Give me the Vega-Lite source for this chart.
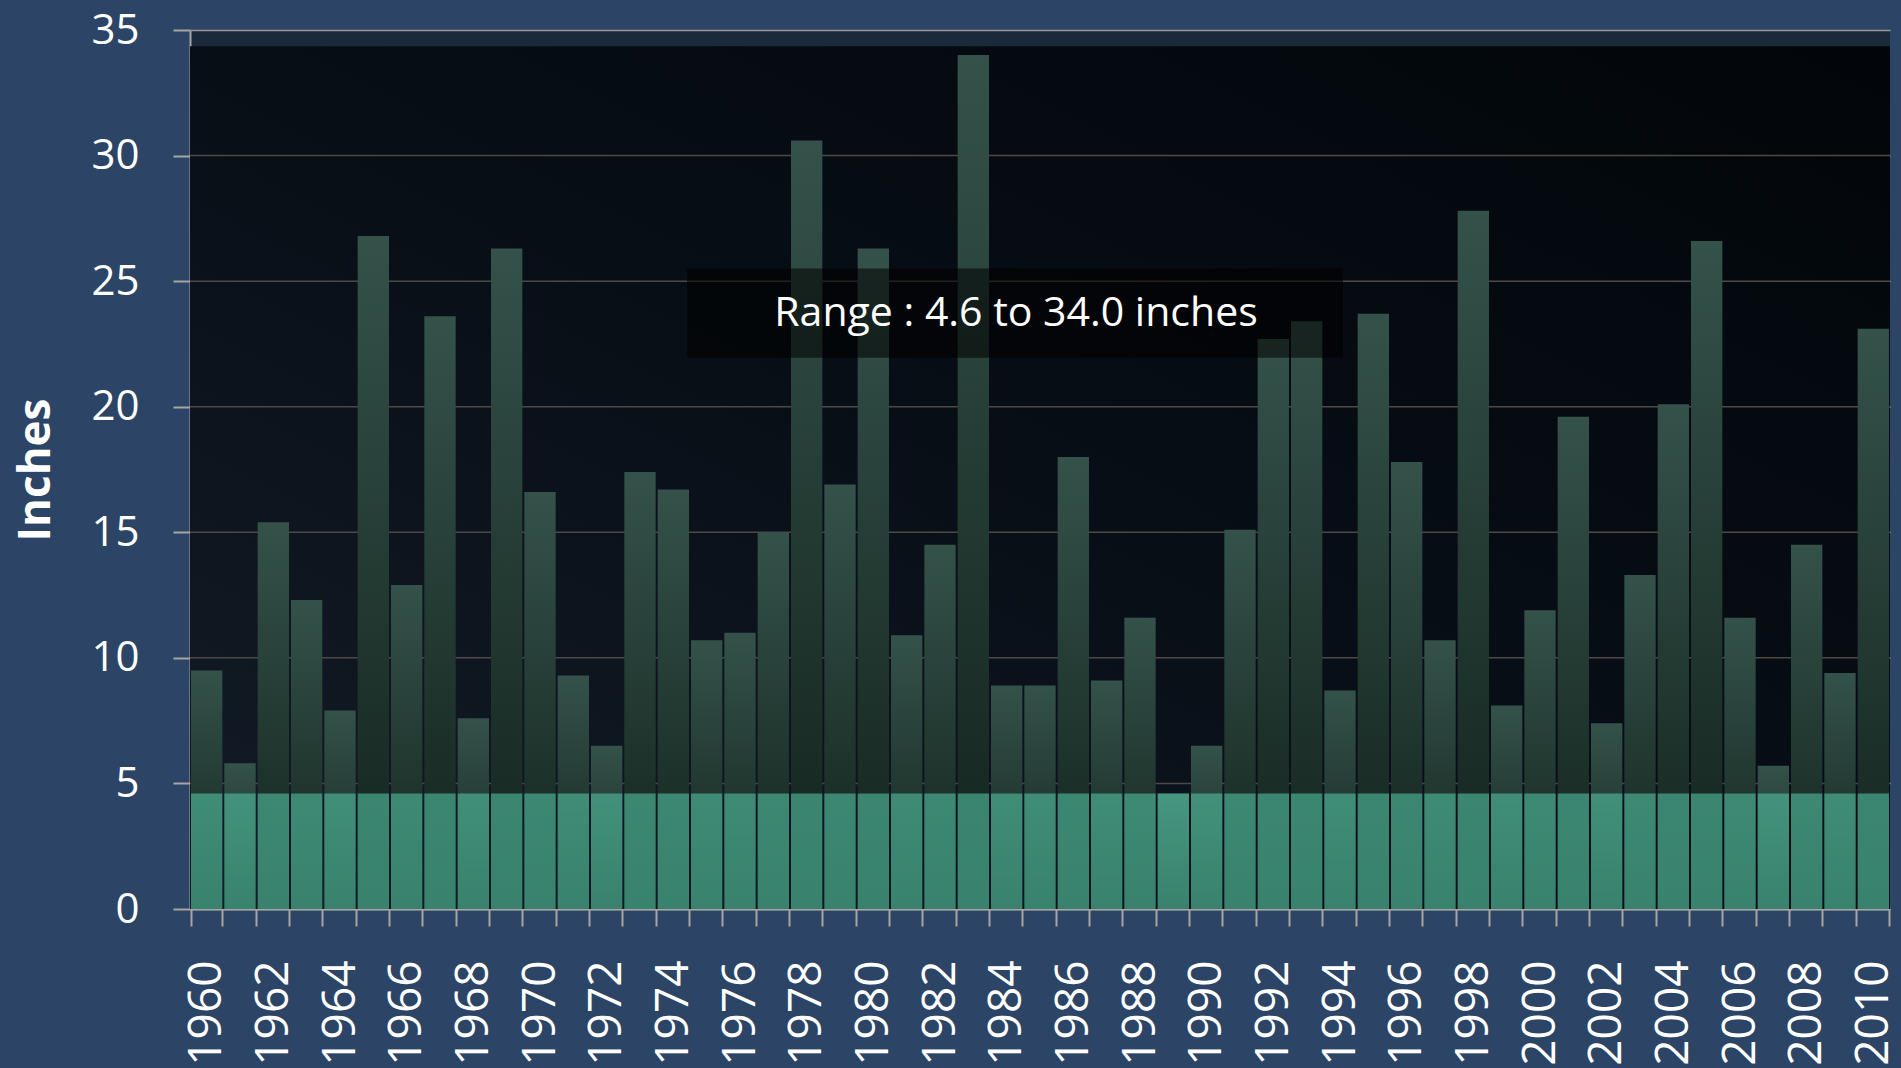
{
  "$schema": "https://vega.github.io/schema/vega-lite/v6.json",
  "width": 1700,
  "height": 879,
  "autosize": {"type": "none"},
  "padding": {"left": 190, "top": 30, "right": 11, "bottom": 159},
  "background": "#2c4566",
  "config": {
    "view": {"fill": "#1b2a3b", "stroke": null},
    "font": "Open Sans",
    "axisX": {
      "title": null,
      "labelAngle": -90,
      "labelAlign": "right",
      "labelBaseline": "middle",
      "labelFontSize": 46,
      "labelFont": "Open Sans",
      "labelColor": "#ffffff",
      "labelPadding": 34,
      "labelOverlap": false,
      "labelExpr": "datum.value % 2 == 0 ? datum.label : ''",
      "tickSize": 17,
      "tickWidth": 2,
      "tickColor": "#a8a4a2",
      "tickBand": "extent",
      "domainColor": "#a8a4a2",
      "domainWidth": 2,
      "grid": false
    },
    "axisY": {
      "titleFontSize": 44,
      "titleFont": "Open Sans",
      "titleFontWeight": "bold",
      "titleColor": "#ffffff",
      "titlePadding": 32,
      "labelFontSize": 42,
      "labelFont": "Open Sans",
      "labelColor": "#ffffff",
      "labelPadding": 34,
      "tickSize": 17,
      "tickWidth": 2,
      "tickColor": "#a8a4a2",
      "domainColor": "#a8a4a2",
      "domainWidth": 2,
      "grid": true,
      "gridColor": "#9c9694",
      "gridWidth": 1.5
    }
  },
  "datasets": {
    "snow": [
      {"year": 1960, "inches": 9.5}, {"year": 1961, "inches": 5.8}, {"year": 1962, "inches": 15.4},
      {"year": 1963, "inches": 12.3}, {"year": 1964, "inches": 7.9}, {"year": 1965, "inches": 26.8},
      {"year": 1966, "inches": 12.9}, {"year": 1967, "inches": 23.6}, {"year": 1968, "inches": 7.6},
      {"year": 1969, "inches": 26.3}, {"year": 1970, "inches": 16.6}, {"year": 1971, "inches": 9.3},
      {"year": 1972, "inches": 6.5}, {"year": 1973, "inches": 17.4}, {"year": 1974, "inches": 16.7},
      {"year": 1975, "inches": 10.7}, {"year": 1976, "inches": 11.0}, {"year": 1977, "inches": 15.0},
      {"year": 1978, "inches": 30.6}, {"year": 1979, "inches": 16.9}, {"year": 1980, "inches": 26.3},
      {"year": 1981, "inches": 10.9}, {"year": 1982, "inches": 14.5}, {"year": 1983, "inches": 34.0},
      {"year": 1984, "inches": 8.9}, {"year": 1985, "inches": 8.9}, {"year": 1986, "inches": 18.0},
      {"year": 1987, "inches": 9.1}, {"year": 1988, "inches": 11.6}, {"year": 1989, "inches": 4.6},
      {"year": 1990, "inches": 6.5}, {"year": 1991, "inches": 15.1}, {"year": 1992, "inches": 22.7},
      {"year": 1993, "inches": 23.4}, {"year": 1994, "inches": 8.7}, {"year": 1995, "inches": 23.7},
      {"year": 1996, "inches": 17.8}, {"year": 1997, "inches": 10.7}, {"year": 1998, "inches": 27.8},
      {"year": 1999, "inches": 8.1}, {"year": 2000, "inches": 11.9}, {"year": 2001, "inches": 19.6},
      {"year": 2002, "inches": 7.4}, {"year": 2003, "inches": 13.3}, {"year": 2004, "inches": 20.1},
      {"year": 2005, "inches": 26.6}, {"year": 2006, "inches": 11.6}, {"year": 2007, "inches": 5.7},
      {"year": 2008, "inches": 14.5}, {"year": 2009, "inches": 9.4}, {"year": 2010, "inches": 23.1}
    ],
    "gridlines": [{"g": 5}, {"g": 10}, {"g": 15}, {"g": 20}, {"g": 25}, {"g": 30}],
    "one": [{"label": "Range : 4.6 to 34.0 inches"}]
  },
  "layer": [
    {
      "layer": [
        {
          "data": {"name": "one"},
          "mark": {
            "type": "rect",
            "color": {
              "gradient": "linear", "x1": 0, "y1": 1, "x2": 1, "y2": 0,
              "stops": [
                {"offset": 0, "color": "#131c27"},
                {"offset": 0.5, "color": "#080e16"},
                {"offset": 1, "color": "#02060a"}
              ]
            }
          },
          "encoding": {
            "y": {"datum": 0, "type": "quantitative", "title": "Inches", "axis": {"values": [0, 5, 10, 15, 20, 25, 30, 35]}, "scale": {"domain": [0, 35], "nice": false}},
            "y2": {"datum": 34.35}
          }
        },
        {
          "data": {"name": "gridlines"},
          "mark": {"type": "rule", "color": "#4e4947", "strokeWidth": 1.5},
          "encoding": {
            "y": {"field": "g", "type": "quantitative", "title": "Inches", "axis": {"values": [0, 5, 10, 15, 20, 25, 30, 35]}, "scale": {"domain": [0, 35], "nice": false}}
          }
        },
        {
          "data": {"name": "snow"},
          "mark": {
            "type": "bar",
            "color": {
              "gradient": "linear", "x1": 0, "y1": 0, "x2": 0, "y2": 1,
              "stops": [
                {"offset": 0, "color": "#34524a"},
                {"offset": 1, "color": "#13231d"}
              ]
            }
          },
          "encoding": {
            "x": {
              "field": "year", "type": "ordinal",
              "scale": {"type": "band", "paddingInner": 0.06, "paddingOuter": 0.03}
            },
            "y": {
              "field": "inches", "type": "quantitative", "title": "Inches",
              "axis": {"values": [0, 5, 10, 15, 20, 25, 30, 35]},
              "scale": {"domain": [0, 35], "nice": false}
            }
          }
        },
        {
          "data": {"name": "snow"},
          "mark": {"type": "bar", "color": "#55c8a8", "opacity": 0.58},
          "encoding": {
            "x": {"field": "year", "type": "ordinal"},
            "y": {"datum": 4.6, "type": "quantitative", "title": "Inches", "axis": {"values": [0, 5, 10, 15, 20, 25, 30, 35]}, "scale": {"domain": [0, 35], "nice": false}}
          }
        }
      ]
    },
    {
      "data": {"name": "one"},
      "layer": [
        {
          "mark": {"type": "rect", "color": "#000000", "opacity": 0.55},
          "encoding": {
            "x": {"datum": 1974.41, "type": "quantitative", "scale": {"domain": [1959.5, 2010.5], "nice": false, "zero": false}, "axis": null},
            "x2": {"datum": 1994.09},
            "y": {"datum": 25.5, "type": "quantitative", "title": "Inches", "axis": {"values": [0, 5, 10, 15, 20, 25, 30, 35]}, "scale": {"domain": [0, 35], "nice": false}},
            "y2": {"datum": 21.95}
          }
        },
        {
          "mark": {"type": "text", "color": "#ffffff", "fontSize": 41, "font": "Open Sans", "align": "center", "baseline": "middle"},
          "encoding": {
            "x": {"datum": 1984.28, "type": "quantitative", "scale": {"domain": [1959.5, 2010.5], "nice": false, "zero": false}, "axis": null},
            "y": {"datum": 23.7, "type": "quantitative", "title": "Inches", "axis": {"values": [0, 5, 10, 15, 20, 25, 30, 35]}, "scale": {"domain": [0, 35], "nice": false}},
            "text": {"field": "label"}
          }
        }
      ]
    }
  ],
  "resolve": {"scale": {"x": "independent"}, "axis": {"x": "independent"}}
}
